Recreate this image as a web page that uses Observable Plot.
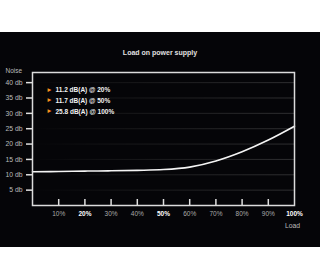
<!DOCTYPE html>
<html>
<head>
<meta charset="utf-8">
<script src="https://cdn.jsdelivr.net/npm/d3@7"></script>
<script src="https://cdn.jsdelivr.net/npm/@observablehq/plot@0.6"></script>
<style>
  html, body { margin: 0; padding: 0; background: #fff; }
  body { padding-top: 32px; }
  #panel { position: relative; width: 320px; height: 215px; background: #050508; overflow: hidden; }
  #title { position: absolute; left: 0; top: 0; width: 320px; height: 41px; text-align: center;
           font: bold 7px "Liberation Sans", Arial, sans-serif; line-height: 41px; color: #e0e0e0; }
  svg { display: block; }
</style>
</head>
<body>
<div id="panel"><div id="title">Load on power supply</div></div>
<script>
const loads = [0, 10, 20, 30, 40, 50, 60, 70, 80, 90, 100];
const noise = [11.0, 11.05, 11.2, 11.3, 11.45, 11.7, 12.5, 14.5, 17.5, 21.3, 25.8];
const yTicks = [5, 10, 15, 20, 25, 30, 35, 40];
const xTicksNormal = [10, 30, 40, 60, 70, 80, 90];
const xTicksBold = [20, 50, 100];
const xTickMarks = [10, 20, 30, 40, 50, 60, 70, 80, 90];
const legendLines = ["11.2 dB(A) @ 20%", "11.7 dB(A) @ 50%", "25.8 dB(A) @ 100%"];
const yLabel = "Noise";
const xLabel = "Load";

const data = loads.map((l, i) => ({load: l, noise: noise[i]}));

const plot = Plot.plot({
  width: 320,
  height: 215,
  marginLeft: 32,
  marginRight: 26,
  marginTop: 40,
  marginBottom: 42,
  style: {background: "#050508", color: "#bbb", fontFamily: "'Liberation Sans', Arial, sans-serif", fontSize: "6.5px"},
  x: {domain: [0, 100]},
  y: {domain: [0, 43.3]},
  marks: [
    Plot.gridY(yTicks, {stroke: "url(#fadeGrid)", strokeOpacity: 1, strokeWidth: 1}),
    Plot.axisY(yTicks, {tickSize: 6, tickPadding: 4, tickFormat: d => d + " db", stroke: "#e0e0e0", strokeWidth: 1.5, fill: "#bbb", fontSize: "6.8px", label: null}),
    Plot.axisX(xTickMarks, {tickSize: 6, dy: -6, text: null, stroke: "#e0e0e0", strokeWidth: 1.5, label: null}),
    Plot.axisX(xTicksNormal, {tickSize: 0, tickPadding: 6, tickFormat: d => d + "%", fill: "#aaa", label: null}),
    Plot.axisX(xTicksBold, {tickSize: 0, tickPadding: 6, tickFormat: d => d + "%", fill: "#fff", fontWeight: "bold", label: null}),
    Plot.line(data, {x: "load", y: "noise", stroke: "#f4f4f4", strokeWidth: 1.6, curve: "monotone-x"}),
    Plot.frame({stroke: "#dcdcdc", strokeWidth: 1.5}),
    Plot.text([yLabel], {frameAnchor: "top-left", dx: -27, dy: -4, textAnchor: "start", fill: "#bbb", fontSize: "6.5px"}),
    Plot.text([xLabel], {frameAnchor: "bottom-right", dx: -2, dy: 22, textAnchor: "middle", fill: "#bbb", fontSize: "6.8px"}),
    Plot.text([legendLines.map(() => "\u25B8").join("\n")], {frameAnchor: "top-left", dx: 15, dy: 11.6, lineAnchor: "top", lineHeight: 1.43, textAnchor: "start", fill: "#f5901e", fontSize: "7.5px", fontFamily: "DejaVu Sans"}),
    Plot.text([legendLines.join("\n")], {frameAnchor: "top-left", dx: 23, dy: 12.2, lineAnchor: "top", lineHeight: 1.65, textAnchor: "start", fill: "#f2f2f2", fontWeight: "bold", fontSize: "6.5px"})
  ]
});

const xr = plot.scale("x").range;
const ns = "http://www.w3.org/2000/svg";
const defs = document.createElementNS(ns, "defs");
const grad = document.createElementNS(ns, "linearGradient");
grad.setAttribute("id", "fadeGrid");
grad.setAttribute("gradientUnits", "userSpaceOnUse");
grad.setAttribute("x1", xr[0]); grad.setAttribute("x2", xr[1]);
grad.setAttribute("y1", 0); grad.setAttribute("y2", 0);
[["0", "#050508"], ["0.3", "#141416"], ["1", "#2e2e30"]].forEach(([o, c]) => {
  const s = document.createElementNS(ns, "stop");
  s.setAttribute("offset", o); s.setAttribute("stop-color", c);
  grad.appendChild(s);
});
defs.appendChild(grad);
plot.insertBefore(defs, plot.firstChild);
document.getElementById("panel").appendChild(plot);
</script>
</body>
</html>
